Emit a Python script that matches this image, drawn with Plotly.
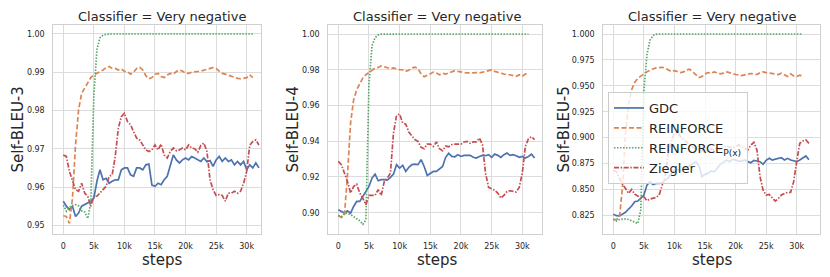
import plotly.graph_objects as go

# ---------------- data ----------------
steps = list(range(0, 32001, 500))          # training steps (sampled every 500)
xtick_vals = [0, 5000, 10000, 15000, 20000, 25000, 30000]
xtick_text = ["0", "5k", "10k", "15k", "20k", "25k", "30k"]

series_names = ["GDC", "REINFORCE", "REINFORCE<sub>P(x)</sub>", "Ziegler"]

# Self-BLEU-3
gdc3 = [0.9563, 0.9550, 0.9541, 0.9550, 0.9523, 0.9532, 0.9550, 0.9554, 0.9558, 0.9563,
        0.9571, 0.9615, 0.9645, 0.9619, 0.9623, 0.9610, 0.9615, 0.9619, 0.9619, 0.9645,
        0.9650, 0.9650, 0.9632, 0.9628, 0.9650, 0.9650, 0.9645, 0.9658, 0.9660, 0.9605,
        0.9602, 0.9610, 0.9606, 0.9619, 0.9628, 0.9658, 0.9684, 0.9671, 0.9663, 0.9671,
        0.9676, 0.9671, 0.9680, 0.9676, 0.9671, 0.9667, 0.9676, 0.9666, 0.9669, 0.9654,
        0.9671, 0.9680, 0.9667, 0.9676, 0.9667, 0.9671, 0.9658, 0.9667, 0.9658, 0.9667,
        0.9645, 0.9658, 0.9650, 0.9663, 0.9650]
reinforce3 = [0.9525, 0.9523, 0.9505, 0.9571, 0.9710, 0.9802, 0.9845, 0.9860, 0.9871, 0.9886,
              0.9893, 0.9897, 0.9902, 0.9906, 0.9912, 0.9915, 0.9910, 0.9910, 0.9906, 0.9909,
              0.9902, 0.9902, 0.9895, 0.9900, 0.9910, 0.9913, 0.9906, 0.9891, 0.9883, 0.9886,
              0.9895, 0.9897, 0.9889, 0.9886, 0.9893, 0.9897, 0.9895, 0.9902, 0.9906, 0.9903,
              0.9897, 0.9897, 0.9900, 0.9902, 0.9902, 0.9903, 0.9906, 0.9908, 0.9910, 0.9912,
              0.9910, 0.9903, 0.9897, 0.9895, 0.9893, 0.9891, 0.9887, 0.9884, 0.9883, 0.9884,
              0.9886, 0.9893, 0.9886]
reinforce_px3 = [0.9553, 0.9537, 0.9547, 0.9552, 0.9554, 0.9551, 0.9538, 0.9535, 0.9518, 0.9560,
                 0.9840, 0.9960, 0.9990, 0.9997, 0.9999, 1.0000, 1.0000, 1.0000, 1.0000, 1.0000,
                 1.0000, 1.0000, 1.0000, 1.0000, 1.0000, 1.0000, 1.0000, 1.0000, 1.0000, 1.0000,
                 1.0000, 1.0000, 1.0000, 1.0000, 1.0000, 1.0000, 1.0000, 1.0000, 1.0000, 1.0000,
                 1.0000, 1.0000, 1.0000, 1.0000, 1.0000, 1.0000, 1.0000, 1.0000, 1.0000, 1.0000,
                 1.0000, 1.0000, 1.0000, 1.0000, 1.0000, 1.0000, 1.0000, 1.0000, 1.0000, 1.0000,
                 1.0000, 1.0000, 1.0000]
ziegler3 = [0.9684, 0.9680, 0.9641, 0.9615, 0.9593, 0.9589, 0.9610, 0.9584, 0.9576, 0.9550,
            0.9576, 0.9576, 0.9584, 0.9593, 0.9602, 0.9628, 0.9632, 0.9680, 0.9754, 0.9784,
            0.9793, 0.9771, 0.9763, 0.9745, 0.9728, 0.9723, 0.9710, 0.9697, 0.9693, 0.9697,
            0.9710, 0.9697, 0.9712, 0.9684, 0.9676, 0.9693, 0.9702, 0.9695, 0.9697, 0.9702,
            0.9697, 0.9710, 0.9702, 0.9700, 0.9691, 0.9709, 0.9715, 0.9693, 0.9619, 0.9593,
            0.9578, 0.9580, 0.9578, 0.9563, 0.9584, 0.9584, 0.9589, 0.9584, 0.9589, 0.9610,
            0.9641, 0.9709, 0.9719, 0.9723, 0.9710]

# Self-BLEU-4
gdc4 = [0.9017, 0.9007, 0.8998, 0.9011, 0.8998, 0.9035, 0.9063, 0.9063, 0.9091, 0.9123,
        0.9147, 0.9194, 0.9216, 0.9179, 0.9185, 0.9185, 0.9183, 0.9198, 0.9216, 0.9269,
        0.9250, 0.9265, 0.9231, 0.9254, 0.9269, 0.9272, 0.9269, 0.9297, 0.9259, 0.9209,
        0.9222, 0.9231, 0.9231, 0.9244, 0.9259, 0.9310, 0.9332, 0.9315, 0.9313, 0.9325,
        0.9315, 0.9321, 0.9319, 0.9321, 0.9310, 0.9306, 0.9315, 0.9321, 0.9319, 0.9325,
        0.9310, 0.9328, 0.9321, 0.9310, 0.9325, 0.9334, 0.9321, 0.9325, 0.9319, 0.9310,
        0.9315, 0.9306, 0.9315, 0.9328, 0.9306]
reinforce4 = [0.8985, 0.8974, 0.8985, 0.9213, 0.9502, 0.9632, 0.9688, 0.9726, 0.9754, 0.9772,
              0.9785, 0.9797, 0.9810, 0.9813, 0.9821, 0.9817, 0.9810, 0.9806, 0.9810, 0.9804,
              0.9800, 0.9800, 0.9791, 0.9797, 0.9810, 0.9815, 0.9806, 0.9776, 0.9761, 0.9769,
              0.9780, 0.9787, 0.9782, 0.9772, 0.9780, 0.9776, 0.9782, 0.9787, 0.9795, 0.9791,
              0.9787, 0.9782, 0.9782, 0.9782, 0.9784, 0.9784, 0.9782, 0.9787, 0.9791, 0.9795,
              0.9799, 0.9791, 0.9785, 0.9778, 0.9776, 0.9772, 0.9772, 0.9767, 0.9763, 0.9772,
              0.9763, 0.9776, 0.9772]
reinforce_px4 = [0.8985, 0.8978, 0.8996, 0.8998, 0.8989, 0.8979, 0.8965, 0.8955, 0.8935, 0.8960,
                 0.9720, 0.9935, 0.9980, 0.9995, 0.9999, 1.0000, 1.0000, 1.0000, 1.0000, 1.0000,
                 1.0000, 1.0000, 1.0000, 1.0000, 1.0000, 1.0000, 1.0000, 1.0000, 1.0000, 1.0000,
                 1.0000, 1.0000, 1.0000, 1.0000, 1.0000, 1.0000, 1.0000, 1.0000, 1.0000, 1.0000,
                 1.0000, 1.0000, 1.0000, 1.0000, 1.0000, 1.0000, 1.0000, 1.0000, 1.0000, 1.0000,
                 1.0000, 1.0000, 1.0000, 1.0000, 1.0000, 1.0000, 1.0000, 1.0000, 1.0000, 1.0000,
                 1.0000, 1.0000, 1.0000]
ziegler4 = [0.9287, 0.9269, 0.9222, 0.9175, 0.9110, 0.9147, 0.9160, 0.9110, 0.9082, 0.9045,
            0.9097, 0.9097, 0.9097, 0.9129, 0.9097, 0.9175, 0.9194, 0.9222, 0.9446, 0.9545,
            0.9552, 0.9502, 0.9496, 0.9451, 0.9427, 0.9409, 0.9399, 0.9366, 0.9358, 0.9384,
            0.9384, 0.9371, 0.9396, 0.9358, 0.9347, 0.9373, 0.9369, 0.9381, 0.9384, 0.9384,
            0.9384, 0.9396, 0.9399, 0.9388, 0.9396, 0.9396, 0.9418, 0.9381, 0.9222, 0.9142,
            0.9134, 0.9125, 0.9110, 0.9082, 0.9097, 0.9119, 0.9123, 0.9119, 0.9116, 0.9142,
            0.9222, 0.9371, 0.9414, 0.9425, 0.9409]

# Self-BLEU-5
gdc5 = [0.8260, 0.8247, 0.8244, 0.8263, 0.8279, 0.8311, 0.8340, 0.8381, 0.8388, 0.8413,
        0.8446, 0.8542, 0.8574, 0.8548, 0.8558, 0.8558, 0.8564, 0.8590, 0.8612, 0.8654,
        0.8692, 0.8692, 0.8679, 0.8692, 0.8712, 0.8731, 0.8752, 0.8768, 0.8729, 0.8623,
        0.8646, 0.8655, 0.8678, 0.8671, 0.8704, 0.8742, 0.8761, 0.8784, 0.8768, 0.8790,
        0.8784, 0.8774, 0.8774, 0.8784, 0.8768, 0.8758, 0.8781, 0.8774, 0.8768, 0.8742,
        0.8781, 0.8800, 0.8784, 0.8793, 0.8800, 0.8806, 0.8784, 0.8800, 0.8784, 0.8774,
        0.8768, 0.8784, 0.8800, 0.8823, 0.8787]
reinforce5 = [0.8205, 0.8211, 0.8227, 0.8520, 0.9050, 0.9320, 0.9462, 0.9532, 0.9571, 0.9596,
              0.9615, 0.9635, 0.9651, 0.9663, 0.9673, 0.9676, 0.9679, 0.9670, 0.9654, 0.9638,
              0.9647, 0.9641, 0.9628, 0.9635, 0.9654, 0.9660, 0.9631, 0.9609, 0.9580, 0.9590,
              0.9615, 0.9628, 0.9622, 0.9635, 0.9628, 0.9615, 0.9622, 0.9635, 0.9628, 0.9615,
              0.9609, 0.9606, 0.9599, 0.9606, 0.9615, 0.9619, 0.9615, 0.9609, 0.9628, 0.9635,
              0.9628, 0.9622, 0.9615, 0.9609, 0.9609, 0.9622, 0.9603, 0.9590, 0.9615, 0.9596,
              0.9590, 0.9603, 0.9590]
reinforce_px5 = [0.8215, 0.8195, 0.8210, 0.8215, 0.8215, 0.8210, 0.8195, 0.8180, 0.8172, 0.8300,
                 0.9450, 0.9800, 0.9940, 0.9985, 0.9997, 1.0000, 1.0000, 1.0000, 1.0000, 1.0000,
                 1.0000, 1.0000, 1.0000, 1.0000, 1.0000, 1.0000, 1.0000, 1.0000, 1.0000, 1.0000,
                 1.0000, 1.0000, 1.0000, 1.0000, 1.0000, 1.0000, 1.0000, 1.0000, 1.0000, 1.0000,
                 1.0000, 1.0000, 1.0000, 1.0000, 1.0000, 1.0000, 1.0000, 1.0000, 1.0000, 1.0000,
                 1.0000, 1.0000, 1.0000, 1.0000, 1.0000, 1.0000, 1.0000, 1.0000, 1.0000, 1.0000,
                 1.0000, 1.0000, 1.0000]
ziegler5 = [0.8686, 0.8670, 0.8612, 0.8551, 0.8510, 0.8462, 0.8500, 0.8455, 0.8436, 0.8423,
            0.8430, 0.8391, 0.8407, 0.8413, 0.8423, 0.8446, 0.8532, 0.8638, 0.8846, 0.8974,
            0.9040, 0.9050, 0.9010, 0.8980, 0.8950, 0.8930, 0.8910, 0.8890, 0.8880, 0.8870,
            0.8880, 0.8870, 0.8890, 0.8880, 0.8900, 0.8890, 0.8900, 0.8920, 0.8910, 0.8900,
            0.8913, 0.8929, 0.8913, 0.8897, 0.8881, 0.8929, 0.8955, 0.8880, 0.8623, 0.8494,
            0.8446, 0.8452, 0.8420, 0.8388, 0.8413, 0.8446, 0.8462, 0.8471, 0.8471, 0.8575,
            0.8768, 0.8945, 0.8967, 0.8977, 0.8945]

ytick3 = [0.95, 0.96, 0.97, 0.98, 0.99, 1.00]
ytick4 = [0.90, 0.92, 0.94, 0.96, 0.98, 1.00]
ytick5 = [0.825, 0.850, 0.875, 0.900, 0.925, 0.950, 0.975, 1.000]

# ---------------- styling / layout ----------------
W, H = 830, 277
FONT = "DejaVu Sans"
TXT = "#262626"
colors = ["#4C72B0", "#DD8452", "#55A868", "#C44E52"]
dashes = ["solid", "5px,2.5px", "1.5px,1.5px", "5px,1.6px,1.5px,1.6px"]

def fx(p):
    return p / W

def fy(p):
    return 1 - p / H

panels = [
    dict(s="", ylabel="Self-BLEU-3", data=[gdc3, reinforce3, reinforce_px3, ziegler3],
         left=53.3, right=260.5, xr=[-1636, 32260], yr=[0.94773, 1.00235],
         yt=ytick3, fmt=".2f", tcx=162, ylx=17, scx=161.7),
    dict(s="2", ylabel="Self-BLEU-4", data=[gdc4, reinforce4, reinforce_px4, ziegler4],
         left=328.3, right=541.7, xr=[-1630, 33160], yr=[0.8881, 1.00504],
         yt=ytick4, fmt=".2f", tcx=437, ylx=292, scx=436.7),
    dict(s="3", ylabel="Self-BLEU-5", data=[gdc5, reinforce5, reinforce_px5, ziegler5],
         left=603.3, right=820.0, xr=[-1636, 33810], yr=[0.8070, 1.0087],
         yt=ytick5, fmt=".3f", tcx=712, ylx=563, scx=712),
]

TOP, BOT = 25, 234
fig = go.Figure()
layout = dict(
    width=W, height=H,
    margin=dict(l=0, r=0, t=0, b=0),
    paper_bgcolor="white", plot_bgcolor="white",
    font=dict(family=FONT, color=TXT),
    showlegend=True,
    legend=dict(x=fx(608), y=fy(92), xanchor="left", yanchor="top",
                bgcolor="rgba(255,255,255,0.8)", bordercolor="#cccccc", borderwidth=1,
                font=dict(family=FONT, size=13, color=TXT),
                tracegroupgap=0, itemwidth=30),
)
annotations = []

for pi, p in enumerate(panels):
    s = p["s"]
    for si in range(4):
        vals = p["data"][si]
        fig.add_trace(go.Scatter(
            x=steps[:len(vals)], y=vals, mode="lines",
            name=series_names[si],
            line=dict(color=colors[si], width=1.7, dash=dashes[si]),
            xaxis="x" + s, yaxis="y" + s,
            showlegend=(pi == 2), hoverinfo="skip",
        ))
    axis_common = dict(showgrid=True, gridcolor="#dcdcdc", gridwidth=1,
                       showline=True, linecolor="#d0d0d0", linewidth=1, mirror=True,
                       zeroline=False, ticks="outside", tickcolor="rgba(0,0,0,0)",
                       tickfont=dict(family=FONT, size=8, color=TXT))
    layout["xaxis" + s] = dict(axis_common, domain=[fx(p["left"]), fx(p["right"])],
                               range=p["xr"], tickmode="array", tickvals=xtick_vals,
                               ticktext=xtick_text, ticklen=4, anchor="y" + s)
    layout["yaxis" + s] = dict(axis_common, domain=[fy(BOT), fy(TOP)],
                               range=p["yr"], tickmode="array", tickvals=p["yt"],
                               tickformat=p["fmt"], ticklen=6, anchor="x" + s)
    annotations.append(dict(text="Classifier = Very negative", xref="paper", yref="paper",
                            x=fx(p["tcx"]), y=fy(16), xanchor="center", yanchor="middle",
                            showarrow=False, font=dict(family=FONT, size=13, color=TXT)))
    annotations.append(dict(text=p["ylabel"], xref="paper", yref="paper", textangle=-90,
                            x=fx(p["ylx"]), y=fy((TOP + BOT) / 2), xanchor="center",
                            yanchor="middle", showarrow=False,
                            font=dict(family=FONT, size=15, color=TXT)))
    annotations.append(dict(text="steps", xref="paper", yref="paper",
                            x=fx(p["scx"]), y=fy(259.5), xanchor="center", yanchor="middle",
                            showarrow=False, font=dict(family=FONT, size=15, color=TXT)))

layout["annotations"] = annotations
fig.update_layout(**layout)
fig.write_html("out.html", config={"displayModeBar": False},
               post_script="document.body.style.margin='0';document.body.style.overflow='hidden';")
